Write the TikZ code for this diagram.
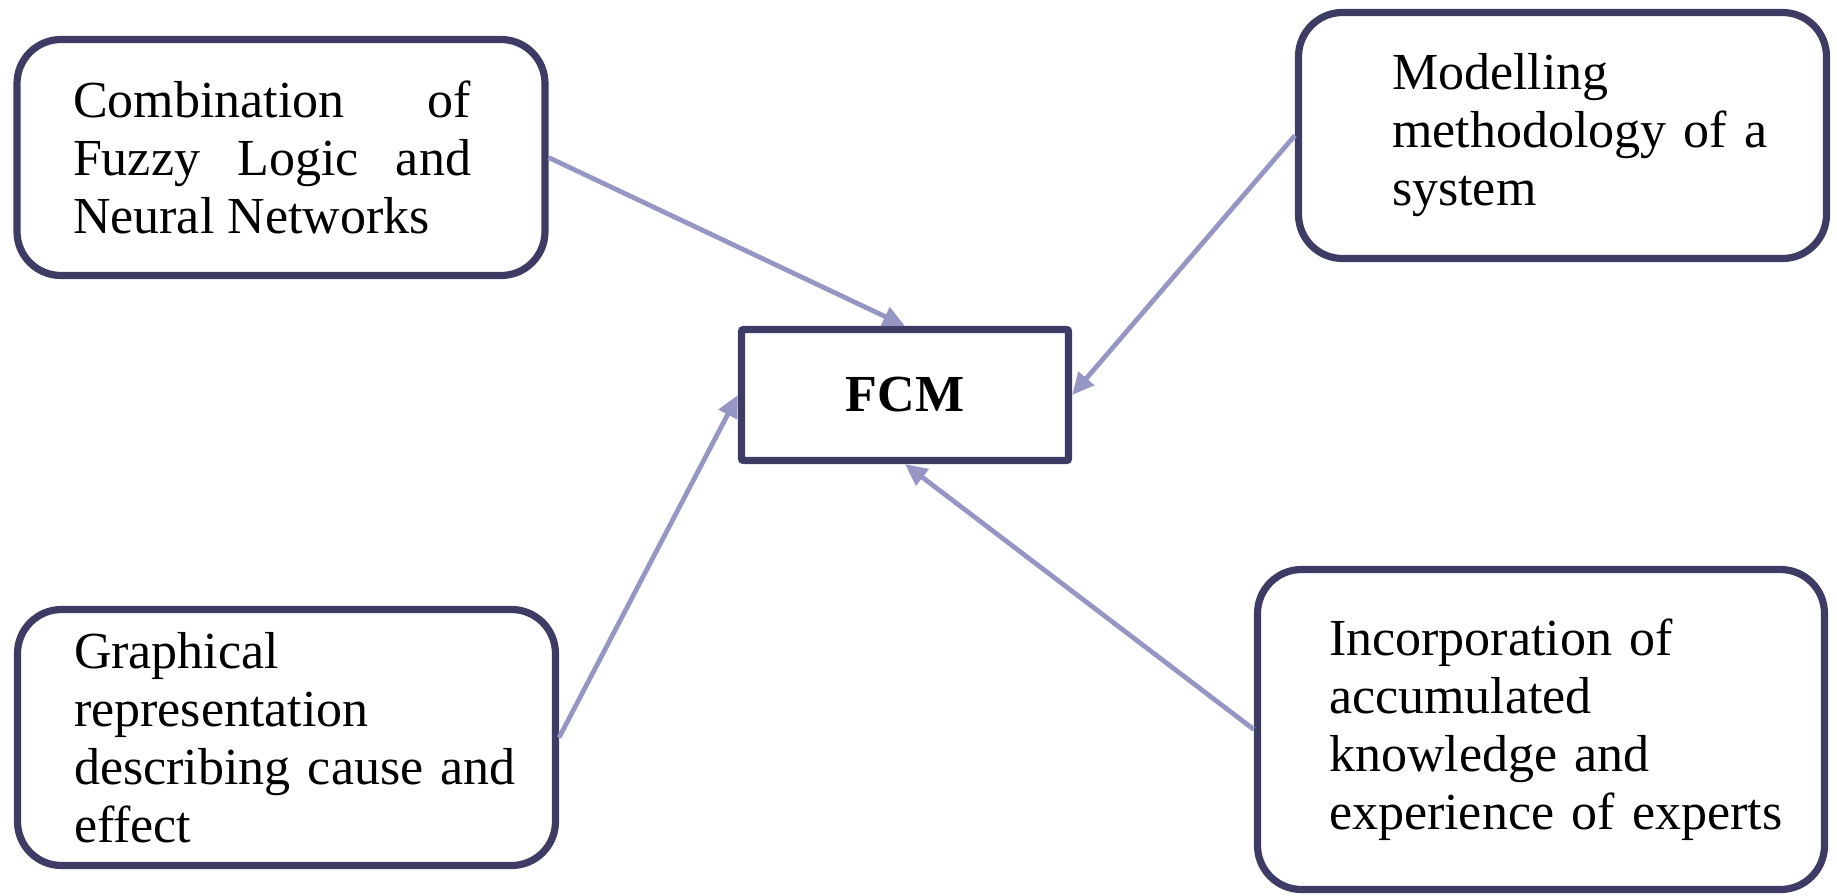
\documentclass[tikz,border=0pt]{standalone}
\usepackage{fontspec}
\setmainfont{Liberation Serif}
\usetikzlibrary{positioning,arrows.meta}
\definecolor{boxline}{RGB}{62,60,100}
\definecolor{arrline}{RGB}{150,150,196}
\tikzset{
  idea/.style={draw=boxline, line width=3.6pt, rounded corners=22pt, fill=white,
    font=\fontsize{26}{29}\selectfont, align=left, inner sep=0pt},
  core/.style={draw=boxline, line width=3.6pt, rounded corners=1pt, fill=white,
    font=\fontsize{26}{29}\selectfont\bfseries},
  feed/.style={draw=arrline, line width=2.4pt, -{Triangle[length=11pt,width=10pt]}},
}

\begin{document}
\begin{tikzpicture}[x=0.5pt,y=-0.5pt]
	\useasboundingbox (0,0) rectangle (1837,895);
	%% centre
	\node[core, minimum width=163.5pt, minimum height=65.5pt] (fcm) at (905,395) {FCM};
	%% the four boxes
	\node[idea, align=justify, text width=208pt, minimum width=264pt, minimum height=118pt]
		(comb) at (281,157.5) {\rightskip=9pt Combination of\linebreak Fuzzy Logic and\linebreak Neural Networks\par};
	\node[idea, text width=244.5pt, minimum width=264pt, minimum height=123pt]
		(model) at (1562.5,135.5) {\leftskip=37pt Modelling\\methodology of a\\system\par\vspace{3pt}};
	\node[idea, text width=249.5pt, minimum width=269pt, minimum height=128pt]
		(graph) at (286.5,737.5) {\leftskip=18.5pt Graphical\\representation\\describing cause and\\effect\par\vspace{3pt}};
	\node[idea, text width=264pt, minimum width=283.5pt, minimum height=160pt]
		(expert) at (1541,729.5) {\leftskip=26pt Incorporation of\\accumulated\\knowledge and\\experience of experts\par\vspace{4pt}};
	% arrows into FCM
	\draw[feed] (comb.east) -- (fcm.north);
	\draw[feed] (model.west) -- (fcm.east);
	\draw[feed] (graph.east) -- (fcm.west);
	\draw[feed] (expert.west) -- (fcm.south);
\end{tikzpicture}
\end{document}
